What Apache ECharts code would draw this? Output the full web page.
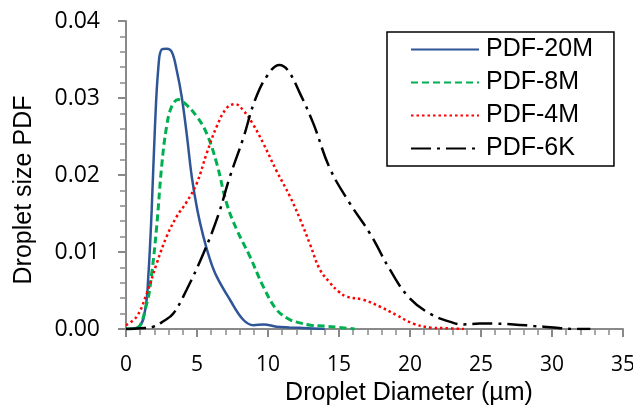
<!DOCTYPE html>
<html>
<head>
<meta charset="utf-8">
<script src="https://cdn.jsdelivr.net/npm/echarts@6/dist/echarts.min.js"></script>
<style>
  html, body { margin: 0; padding: 0; background: #fff; }
  #chart { width: 633px; height: 407px; }
</style>
</head>
<body>
<div id="chart"></div>
<script>
// droplet diameter (µm) / pdf values, one pair of arrays per curve
var d20M = [0, 0.9, 1.35, 1.57, 1.81, 2.04, 2.28, 2.51, 2.86, 3.22, 3.57, 3.92, 4.27, 4.63, 5.02, 5.45, 5.92, 6.39, 7.32, 8.26, 8.97, 9.7, 10.6, 11.5, 12.8, 14];
var p20M = [0, 0.0003, 0.0025, 0.0068, 0.0155, 0.0263, 0.034, 0.0363, 0.0364, 0.036, 0.0336, 0.0302, 0.0254, 0.0198, 0.0155, 0.012, 0.009, 0.0068, 0.0038, 0.0012, 0.0005, 0.0006, 0.0003, 0.0002, 0.0001, 0];

var d8M = [0, 0.75, 1.46, 1.81, 2.16, 2.51, 2.86, 3.22, 3.69, 4.15, 4.98, 5.68, 6.39, 7.09, 7.8, 8.73, 9.67, 10.61, 11.55, 12.25, 13.0, 13.9, 15, 16.1];
var p8M = [0, 0.0001, 0.0033, 0.0072, 0.0133, 0.0211, 0.0263, 0.0289, 0.0298, 0.0293, 0.0276, 0.0254, 0.0215, 0.0163, 0.0129, 0.0094, 0.0055, 0.0025, 0.0012, 0.0008, 0.0005, 0.0004, 0.0002, 0];

var d4M = [0, 0.75, 1.46, 2.16, 2.86, 3.57, 4.27, 4.98, 5.68, 6.39, 7.09, 7.68, 8.26, 8.97, 9.67, 10.61, 11.55, 12.25, 12.96, 13.66, 14.37, 14.95, 15.54, 16.71, 17.89, 19.06, 20.23, 21.4, 22.5, 23.8];
var p4M = [0.0005, 0.0016, 0.0046, 0.0085, 0.012, 0.0146, 0.0165, 0.0189, 0.0228, 0.0263, 0.0287, 0.0292, 0.0284, 0.0265, 0.0241, 0.0205, 0.0172, 0.0143, 0.011, 0.0077, 0.006, 0.0049, 0.0042, 0.0038, 0.0029, 0.0018, 0.0007, 0.0002, 0.0001, 0];

var d6K = [0, 1.0, 1.92, 2.63, 3.33, 4.27, 5.45, 6.5, 7.32, 8.26, 9.08, 9.91, 10.8, 11.4, 12.25, 13.19, 14.37, 15.77, 17.18, 18.59, 19.88, 21.4, 23.05, 23.75, 24.9, 26.0, 27.3, 28.7, 30.1, 31.5, 32.7];
var p6K = [0, 0.0001, 0.0003, 0.001, 0.002, 0.0051, 0.0098, 0.0148, 0.0198, 0.0248, 0.0297, 0.0328, 0.0343, 0.0336, 0.0306, 0.0267, 0.0208, 0.0163, 0.0124, 0.0077, 0.0042, 0.002, 0.0008, 0.0006, 0.0007, 0.0007, 0.0006, 0.0004, 0.0002, 0, 0];

var names = ['PDF-20M', 'PDF-8M', 'PDF-4M', 'PDF-6K'];
var xTicks = [0, 35, 5];     // min, max, step
var yTicks = [0, 0.04, 0.01];

function pairs(xs, ys) {
  return xs.map(function (x, i) { return [x, ys[i]]; });
}

var axisGray = '#898989';
var tickFont = 'Open Sans';
var titleFont = 'Liberation Sans';

function makeLine(name, data, color, width, type) {
  return {
    name: name,
    type: 'line',
    data: data,
    symbol: 'none',
    showSymbol: false,
    smooth: 0.4,
    lineStyle: { color: color, width: width, type: type },
    itemStyle: { color: color }
  };
}

var chart = echarts.init(document.getElementById('chart'));
var option = {
  animation: false,
  backgroundColor: '#fff',
  // fixed plot box, don't let v6 shrink it to fit the axis names
  grid: { left: 126, right: 10, top: 21, bottom: 78, outerBoundsMode: 'none' },
  legend: {
    orient: 'vertical',
    left: 387,
    top: 32,
    padding: [5, 21, 5, 23],
    itemWidth: 68,
    itemHeight: 14,
    itemGap: 8,
    borderColor: '#000',
    borderWidth: 1.5,
    // line only, no marker dot
    itemStyle: { opacity: 0 },
    textStyle: { fontFamily: titleFont, fontSize: 25, color: '#000', padding: [0, 0, 0, 2] },
    data: names
  },
  xAxis: {
    type: 'value',
    min: xTicks[0],
    max: xTicks[1],
    interval: xTicks[2],
    name: 'Droplet Diameter (µm)',
    nameLocation: 'middle',
    nameGap: 51,
    nameTextStyle: { fontFamily: titleFont, fontSize: 25, color: '#000', padding: [0, 0, 0, 69] },
    axisLine: { lineStyle: { color: axisGray, width: 2 } },
    axisTick: { length: 8, lineStyle: { color: axisGray, width: 2 } },
    minorTick: { show: true, splitNumber: 5, length: 6, lineStyle: { color: axisGray, width: 1.5 } },
    splitLine: { show: false },
    axisLabel: { margin: 26, fontFamily: tickFont, fontSize: 21, color: '#000' }
  },
  yAxis: {
    type: 'value',
    min: yTicks[0],
    max: yTicks[1],
    interval: yTicks[2],
    name: 'Droplet size PDF',
    nameLocation: 'middle',
    nameGap: 89,
    nameTextStyle: { fontFamily: titleFont, fontSize: 25, color: '#000', padding: [0, 30, 0, 0] },
    axisLine: { show: true, lineStyle: { color: axisGray, width: 2 } },
    axisTick: { show: true, length: 8, lineStyle: { color: axisGray, width: 2 } },
    minorTick: { show: true, splitNumber: 5, length: 6, lineStyle: { color: axisGray, width: 1.5 } },
    splitLine: { show: false },
    axisLabel: {
      margin: 26,
      fontFamily: tickFont,
      fontSize: 23,
      color: '#000',
      formatter: function (v) { return v.toFixed(2); }
    }
  },
  series: [
    makeLine(names[0], pairs(d20M, p20M), '#2F5597', 2.5, 'solid'),
    makeLine(names[1], pairs(d8M, p8M), '#00B050', 3, [7, 4]),
    makeLine(names[2], pairs(d4M, p4M), '#FF0000', 2.5, [2.5, 3]),
    makeLine(names[3], pairs(d6K, p6K), '#000000', 2.5, [20, 6, 3, 6])
  ]
};
chart.setOption(option);
</script>
</body>
</html>
